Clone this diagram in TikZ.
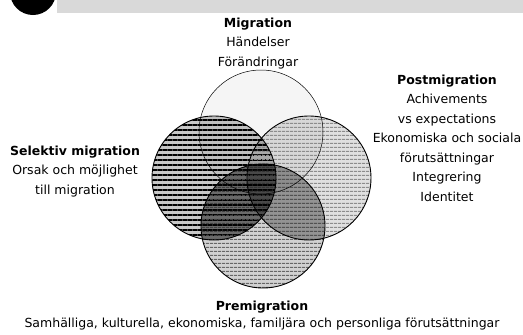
\documentclass[tikz,border=0pt]{standalone}
\usepackage{fontspec}
\setmainfont{DejaVu Sans}
\usetikzlibrary{patterns.meta,positioning}

\begin{document}
\begin{tikzpicture}[
    x=1pt, y=-1pt,
    font=\fontsize{12.5}{19.5}\selectfont,
    rubrik/.style={font=\fontsize{12.5}{19.5}\selectfont\bfseries, inner sep=0pt},
    rad/.style={align=center, inner sep=0pt},
    ring/.style={draw=black, line width=0.9pt}
  ]

    \useasboundingbox (0,0) rectangle (523,335);

    % --- Mått på cirklarna ---
    \def\R{62}      % radie
    \def\Mx{261} \def\My{132}   % migration
    \def\Sx{214} \def\Sy{178}   % selektiv
    \def\Px{309} \def\Py{178}   % postmigration
    \def\Qx{263} \def\Qy{226}   % premigration

    % --- Rubrikband ---
    \fill[gray!30] (57,0) rectangle (523,13);
    \fill[black] (33,-8) circle (23);

    % --- Cirklarna ---
    \fill[black, opacity=0.04] (\Mx,\My) circle (\R);
    \fill[black, opacity=0.22] (\Sx,\Sy) circle (\R);
    \fill[black, opacity=0.12] (\Px,\Py) circle (\R);
    \fill[black, opacity=0.18] (\Qx,\Qy) circle (\R);
    \fill[pattern={Lines[angle=0, distance=5pt, line width=2pt]}, pattern color=black]
      (\Sx,\Sy) circle (\R);
    \fill[pattern={Lines[angle=0, distance=4pt, line width=1pt]}, pattern color=gray!90]
      (\Px,\Py) circle (\R);
    \fill[pattern={Lines[angle=0, distance=4pt, line width=1.3pt]}, pattern color=gray!80!black]
      (\Qx,\Qy) circle (\R);
    % mörka överlapp
    \begin{scope}
      \clip (\Qx,\Qy) circle (\R);
      \fill[black, opacity=0.35] (\Sx,\Sy) circle (\R);
      \fill[black, opacity=0.2] (\Px,\Py) circle (\R);
    \end{scope}
    \draw[ring, line width=0.5pt] (\Mx,\My) circle (\R);
    \draw[ring] (\Px,\Py) circle (\R);
    \draw[ring] (\Qx,\Qy) circle (\R);
    \draw[ring] (\Sx,\Sy) circle (\R);

    % --- Texter ---
    \node[rubrik] (migration) at (258,24) {Migration};
    \node[rad, below=7pt of migration] (migtext) {Händelser\\Förändringar};

    \node[rubrik] (post) at (447,81) {Postmigration};
    \node[rad, below=7pt of post] (posttext)
      {Achivements\\vs expectations\\Ekonomiska och sociala\\förutsättningar\\Integrering\\Identitet};

    \node[rubrik] (selektiv) at (75,152) {Selektiv migration};
    \node[rad, below=7pt of selektiv] (seltext) {Orsak och möjlighet\\till migration};

    \node[rubrik] (pre) at (262,307) {Premigration};
    \node[rad, below=5pt of pre] (pretext)
      {Samhälliga, kulturella, ekonomiska, familjära och personliga förutsättningar};

  \end{tikzpicture}
\end{document}
